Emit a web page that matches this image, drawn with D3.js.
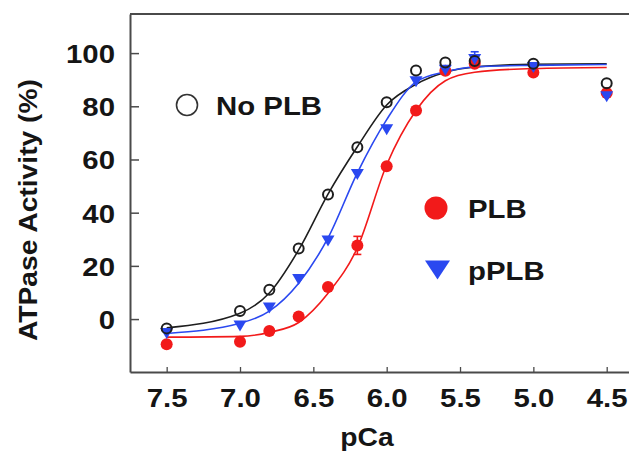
<!DOCTYPE html>
<html><head><meta charset="utf-8">
<script src="https://cdn.jsdelivr.net/npm/d3@7"></script>
<style>
html,body{margin:0;padding:0;background:#fff;}
svg{display:block;}
text{font-family:"Liberation Sans",Arial,Helvetica,sans-serif;font-weight:bold;fill:#151515;}
</style></head>
<body>
<svg id="chart" width="629" height="453"></svg>
<script>
// ---- data ----
const pCa      = [7.5, 7.0, 6.8, 6.6, 6.4, 6.2, 6.0, 5.8, 5.6, 5.4, 5.0, 4.5];
const noPLB    = [-3.5, 3.0, 11.0, 26.5, 46.8, 64.6, 81.5, 93.5, 96.5, 97.0, 96.0, 88.7];
const PLB      = [-9.5, -8.5, -4.5, 1.0, 12.1, 27.7, 57.5, 78.4, 93.4, 96.0, 92.7, 85.0];
const pPLB     = [-5.0, -2.2, 4.6, 15.3, 29.8, 54.8, 71.6, 89.6, 94.0, 98.0, 95.0, 84.0];
const plbErr   = [0, 0, 0, 0, 0, 3.4, 0, 0, 0, 0, 0, 0];
const pplbErr  = [0, 0, 0, 0, 0, 0, 0, 0, 0, 2.5, 0, 0];
// fitted curves
const fitPCa   = [7.5, 7.0, 6.8, 6.6, 6.4, 6.2, 6.0, 5.8, 5.6, 5.4, 5.0, 4.5];
const noPLBFit = [-3.3, 2.2, 9.8, 26.0, 47.0, 64.8, 80.5, 88.3, 92.8, 94.8, 95.8, 96.0];
const PLBFit   = [-6.8, -6.5, -5.0, -1.3, 9.7, 26.8, 58.0, 78.4, 89.6, 92.8, 94.2, 94.6];
const pPLBFit  = [-5.4, -1.6, 3.0, 13.5, 30.5, 55.0, 75.0, 89.2, 93.0, 94.8, 95.4, 95.7];
const xTicks   = [7.5, 7.0, 6.5, 6.0, 5.5, 5.0, 4.5];
const yTicks   = [0, 20, 40, 60, 80, 100];
const legendLabels = ["No PLB", "PLB", "pPLB"];

const svg = d3.select("#chart");
const SX = 1.13; // horizontal stretch of the lettering

const x = d3.scaleLinear().domain([7.75, 4.2]).range([130, 650.7]);
const y = d3.scaleLinear().domain([-19.9, 114.7]).range([372, 14]);

const BLACK = "#1e1e1e", RED = "#f21a1a", BLUE = "#2a48f0";
const axisColor = "#4a4a4a";

// top frame line
svg.append("line").attr("x1", 130).attr("x2", 629).attr("y1", 14).attr("y2", 14)
  .attr("stroke", axisColor).attr("stroke-width", 2);

// axes
const gx = svg.append("g").attr("transform", "translate(0,372)")
  .call(d3.axisBottom(x).tickValues(xTicks).tickFormat(d3.format(".1f")).tickSizeInner(-5).tickSizeOuter(0));
gx.select(".domain").attr("stroke", axisColor).attr("stroke-width", 2);
gx.selectAll(".tick line").attr("stroke", axisColor).attr("stroke-width", 1.3);
gx.selectAll(".tick text").attr("y", 35).attr("dy", 0).attr("font-size", 26)
  .attr("transform", `scale(${SX},1)`).attr("fill", "#151515");

const gy = svg.append("g").attr("transform", "translate(130,0)")
  .call(d3.axisLeft(y).tickValues(yTicks).tickSizeInner(-9).tickSizeOuter(0));
gy.select(".domain").attr("stroke", axisColor).attr("stroke-width", 2);
gy.selectAll(".tick line").attr("stroke", axisColor).attr("stroke-width", 1.5);
gy.selectAll(".tick text").attr("x", -15 / SX).attr("dy", "0.36em").attr("font-size", 26)
  .attr("transform", `scale(${SX},1)`).attr("fill", "#151515");
svg.selectAll(".tick text").attr("font-family", null);

// axis titles
svg.append("text").attr("transform", `translate(367,446) scale(${SX},1)`)
  .attr("text-anchor", "middle").attr("font-size", 25).text("pCa");
svg.append("text").attr("transform", `translate(37,210) rotate(-90) scale(${SX},1)`)
  .attr("text-anchor", "middle").attr("font-size", 25).text("ATPase Activity (%)");

// fitted curves
const line = d3.line().x(d => x(d[0])).y(d => y(d[1])).curve(d3.curveMonotoneX);
const fits = [[noPLBFit, BLACK], [pPLBFit, BLUE], [PLBFit, RED]];
fits.forEach(([vals, col]) => {
  svg.append("path").datum(fitPCa.map((p, i) => [p, vals[i]]))
    .attr("d", line).attr("fill", "none").attr("stroke", col).attr("stroke-width", 1.6);
});

// error bars
function errBars(vals, errs, col) {
  const d = pCa.map((p, i) => ({p, v: vals[i], e: errs[i]})).filter(o => o.e > 0);
  const g = svg.append("g").attr("stroke", col).attr("stroke-width", 1.6);
  d.forEach(o => {
    g.append("line").attr("x1", x(o.p)).attr("x2", x(o.p)).attr("y1", y(o.v - o.e)).attr("y2", y(o.v + o.e));
    [o.v - o.e, o.v + o.e].forEach(v => g.append("line")
      .attr("x1", x(o.p) - 4).attr("x2", x(o.p) + 4).attr("y1", y(v)).attr("y2", y(v)));
  });
}
errBars(PLB, plbErr, RED);
errBars(pPLB, pplbErr, BLUE);

// down-pointing triangle path
function triDown(w, h) {
  return `M${-w/2},${-h*0.4}L${w/2},${-h*0.4}L0,${h*0.6}Z`;
}

// markers
svg.append("g").selectAll("circle").data(pCa.map((p, i) => [p, PLB[i]])).join("circle")
  .attr("cx", d => x(d[0])).attr("cy", d => y(d[1])).attr("r", 6).attr("fill", RED);
svg.append("g").selectAll("path").data(pCa.map((p, i) => [p, pPLB[i]])).join("path")
  .attr("transform", d => `translate(${x(d[0])},${y(d[1])})`).attr("d", triDown(13, 11)).attr("fill", BLUE);
svg.append("g").selectAll("circle").data(pCa.map((p, i) => [p, noPLB[i]])).join("circle")
  .attr("cx", d => x(d[0])).attr("cy", d => y(d[1])).attr("r", 5)
  .attr("fill", "none").attr("stroke", BLACK).attr("stroke-width", 2);

// legend
svg.append("circle").attr("cx", 187).attr("cy", 105).attr("r", 10.5)
  .attr("fill", "none").attr("stroke", "#333").attr("stroke-width", 1.6);
svg.append("text").attr("transform", `translate(216,115) scale(${SX},1)`).attr("font-size", 26).text(legendLabels[0]);
svg.append("circle").attr("cx", 436).attr("cy", 208).attr("r", 11.5).attr("fill", RED);
svg.append("text").attr("transform", `translate(468,218) scale(${SX},1)`).attr("font-size", 26).text(legendLabels[1]);
svg.append("path").attr("transform", "translate(437.5,268)").attr("d", triDown(25, 19)).attr("fill", BLUE);
svg.append("text").attr("transform", `translate(468,280) scale(${SX},1)`).attr("font-size", 26).text(legendLabels[2]);
</script>
</body></html>
